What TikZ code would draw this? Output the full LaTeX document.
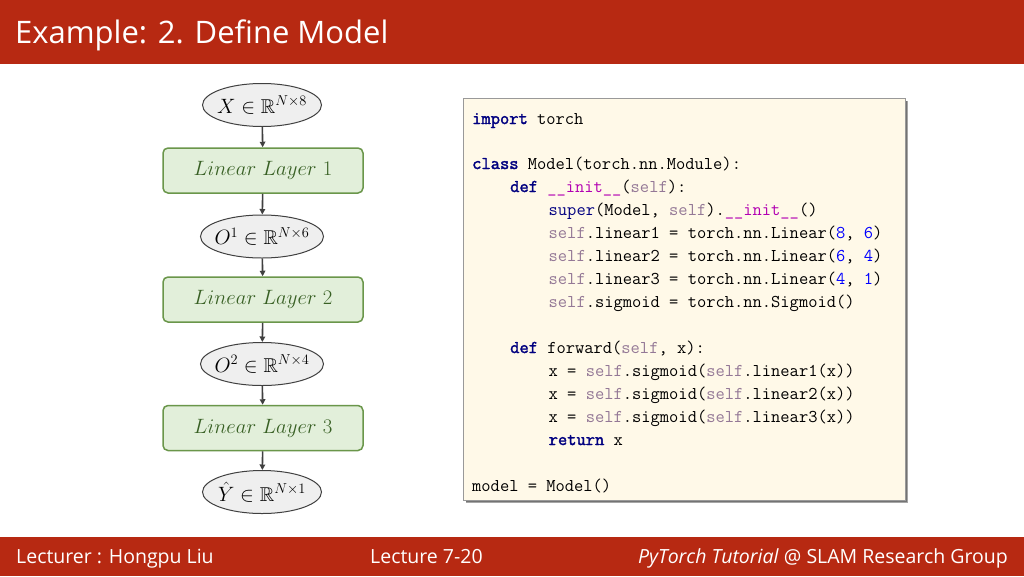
\documentclass[tikz,border=0pt]{standalone}
\usepackage{amsmath,amssymb}
\usepackage{fontspec}
\usetikzlibrary{arrows.meta,shapes.geometric}
\newfontfamily\uifont{Open Sans}
\newfontfamily\codefont{Latin Modern Mono}
\newfontfamily\codebold{Latin Modern Mono}[FakeBold=2]
\definecolor{barred}{RGB}{183,41,18}
\definecolor{kwblue}{RGB}{0,0,128}
\definecolor{selfc}{RGB}{148,120,150}
\definecolor{dunder}{RGB}{178,0,178}
\definecolor{numc}{RGB}{0,0,255}
\definecolor{codebg}{RGB}{255,249,232}
\definecolor{layerfill}{RGB}{226,239,218}
\definecolor{layerdraw}{RGB}{106,150,74}
\definecolor{layertext}{RGB}{56,96,36}
\definecolor{tensorfill}{RGB}{239,239,239}
\definecolor{arrowc}{RGB}{64,64,64}
% code token markup
\newcommand{\cK}[1]{{\codebold\color{kwblue}#1}}
\newcommand{\cB}[1]{{\color{kwblue}#1}}
\newcommand{\cS}[1]{{\color{selfc}#1}}
\newcommand{\cI}{{\color{dunder}\textunderscore\textunderscore init\textunderscore\textunderscore}}
\newcommand{\cN}[1]{{\color{numc}#1}}
\begin{document}
\begin{tikzpicture}[x=1pt,y=-1pt,
  tensor/.style={ellipse,draw=arrowc,line width=1pt,fill=tensorfill,
    minimum width=119pt,minimum height=43pt,inner xsep=-4pt,inner ysep=0pt,font=\fontsize{20}{24}\selectfont},
  layer/.style={rectangle,rounded corners=5pt,draw=layerdraw,line width=1.5pt,fill=layerfill,
    minimum width=200pt,minimum height=45pt,inner sep=0pt,text=layertext,font=\fontsize{20.5}{24}\selectfont},
  flow/.style={draw=arrowc,line width=1.6pt,-{Triangle[length=5.5pt,width=5.5pt]}},
  codeline/.style={anchor=base west,inner sep=0pt,font=\codefont\fontsize{18}{22}\selectfont},
  barfont/.style={text=white,inner sep=0pt}]
\useasboundingbox (0,0) rectangle (1024,576);
\fill[white] (0,0) rectangle (1024,576);

% header and footer bars
\fill[barred] (0,0) rectangle (1024,64);
\fill[barred] (0,537) rectangle (1024,576);
\node[barfont,anchor=base west,font=\uifont\fontsize{31}{36}\selectfont] (title) at (15,43) {Example: 2. Define Model};
\node[barfont,anchor=base west,font=\uifont\fontsize{19.5}{23}\selectfont] (lecturer) at (16,563) {Lecturer : Hongpu Liu};
\node[barfont,anchor=base west,font=\uifont\fontsize{19.5}{23}\selectfont] (lecture) at (370,563) {Lecture 7-20};
\node[barfont,anchor=base east,font=\uifont\fontsize{19.5}{23}\selectfont] (group) at (1008,563) {\textit{PyTorch Tutorial} @ SLAM Research Group};

% network flow
\node[tensor] (x) at (262,105) {$X \in \mathbb{R}^{N\times 8}$};
\node[layer] (l1) at (263,170.5) {$Linear\ Layer\ 1$};
\node[tensor] (o1) at (262,236.5) {$O^1 \in \mathbb{R}^{N\times 6}$};
\node[layer] (l2) at (263,299.5) {$Linear\ Layer\ 2$};
\node[tensor] (o2) at (262,364) {$O^2 \in \mathbb{R}^{N\times 4}$};
\node[layer] (l3) at (263,428) {$Linear\ Layer\ 3$};
\node[tensor] (y) at (262,492) {$\hat{Y} \in \mathbb{R}^{N\times 1}$};
\draw[flow] (x) -- (l1);
\draw[flow] (l1) -- (o1);
\draw[flow] (o1) -- (l2);
\draw[flow] (l2) -- (o2);
\draw[flow] (o2) -- (l3);
\draw[flow] (l3) -- (y);

% code listing with its drop shadow
\fill[black!35] (466,101) rectangle (908,503);
\fill[black!55] (466,101) rectangle (907,502);
\node[draw=black!40,line width=0.8pt,fill=codebg,minimum width=442pt,minimum height=402pt,inner sep=0pt,anchor=north west] (codebox) at (463,98) {};
\node[codeline] (c1) at (472,124) {\cK{import} torch};
\node[codeline] (c2) at (472,169) {\cK{class} Model(torch.nn.Module):};
\node[codeline] (c3) at (510,192) {\cK{def} \cI(\cS{self}):};
\node[codeline] (c4) at (548.5,215) {\cB{super}(Model, \cS{self}).\cI()};
\node[codeline] (c5) at (548.5,238) {\cS{self}.linear1 = torch.nn.Linear(\cN{8}, \cN{6})};
\node[codeline] (c6) at (548.5,261) {\cS{self}.linear2 = torch.nn.Linear(\cN{6}, \cN{4})};
\node[codeline] (c7) at (548.5,284) {\cS{self}.linear3 = torch.nn.Linear(\cN{4}, \cN{1})};
\node[codeline] (c8) at (548.5,307) {\cS{self}.sigmoid = torch.nn.Sigmoid()};
\node[codeline] (c9) at (510,353) {\cK{def} forward(\cS{self}, x):};
\node[codeline] (c10) at (548.5,376) {x = \cS{self}.sigmoid(\cS{self}.linear1(x))};
\node[codeline] (c11) at (548.5,399) {x = \cS{self}.sigmoid(\cS{self}.linear2(x))};
\node[codeline] (c12) at (548.5,422) {x = \cS{self}.sigmoid(\cS{self}.linear3(x))};
\node[codeline] (c13) at (548.5,445) {\cK{return} x};
\node[codeline] (c14) at (472,491) {model = Model()};
\end{tikzpicture}
\end{document}
